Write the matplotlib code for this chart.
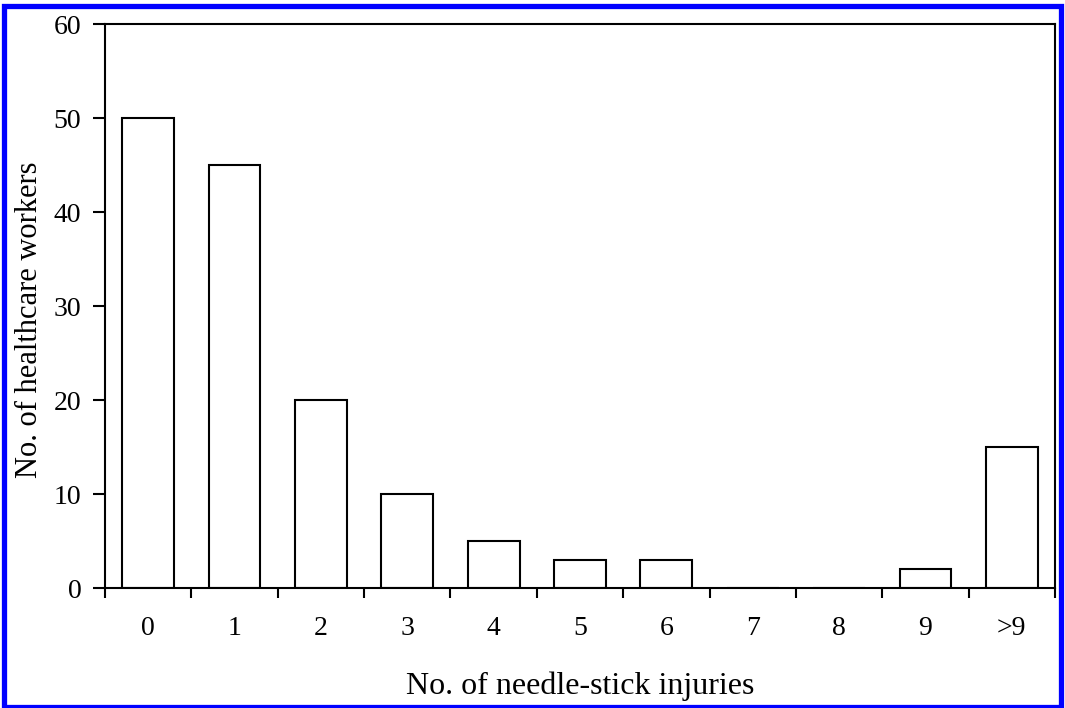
import matplotlib.pyplot as plt
from matplotlib.patches import Rectangle
import numpy as np

categories = ['0', '1', '2', '3', '4', '5', '6', '7', '8', '9', '>9']
workers = [50, 45, 20, 10, 5, 3, 3, 0, 0, 2, 15]

plt.rcParams['font.family'] = ['Liberation Serif', 'DejaVu Serif']

fig = plt.figure(figsize=(10.65, 7.08), dpi=100)
ax = fig.add_axes([105 / 1065, 1 - 588 / 708, 950 / 1065, 564 / 708])

x = np.arange(len(categories))
ax.bar(x, workers, width=0.6, color='white', edgecolor='black', linewidth=1.5)

ax.set_xlim(-0.5, len(categories) - 0.5)
ax.set_ylim(0, 60)
ax.set_yticks(range(0, 61, 10))

# tick marks at the category boundaries, labels under the bars
ax.set_xticks(np.arange(-0.5, len(categories), 1.0))
ax.set_xticklabels([])
ax.set_xticks(x, minor=True)
ax.set_xticklabels(categories, minor=True)
ax.tick_params(axis='x', which='major', direction='out', length=7, width=1.5)
ax.tick_params(axis='x', which='minor', length=0, pad=20, labelsize=20)
ax.tick_params(axis='y', direction='out', length=9, width=1.5, pad=8, labelsize=20)

for s in ax.spines.values():
    s.set_linewidth(1.5)

ax.set_xlabel('No. of needle-stick injuries', fontsize=23, labelpad=22)
ax.set_ylabel('No. of healthcare workers', fontsize=22)
ax.yaxis.set_label_coords(-0.064, 0.475)

# blue frame around the whole figure
fig.patches.append(Rectangle((4.5 / 1065, 1 / 708), 1056 / 1065, 701.5 / 708,
                             transform=fig.transFigure, fill=False,
                             edgecolor='#0000ff', linewidth=3.8))

fig.savefig('out.png', dpi=100)
